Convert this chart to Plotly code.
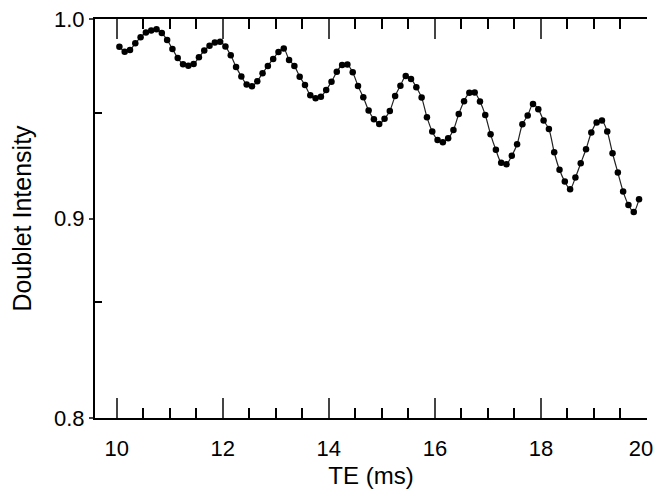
import plotly.graph_objects as go

# echo time (ms), one point every 0.1 ms
te = [round(10.05 + 0.1 * i, 2) for i in range(99)]

intensity = [
    0.9861, 0.9836, 0.9845, 0.9878, 0.9908, 0.9932, 0.9942, 0.9948, 0.9930, 0.9895,
    0.9850, 0.9805, 0.9773, 0.9766, 0.9775, 0.9808, 0.9842, 0.9866, 0.9882, 0.9886,
    0.9862, 0.9818, 0.9760, 0.9712, 0.9672, 0.9663, 0.9688, 0.9728, 0.9765, 0.9800,
    0.9835, 0.9852, 0.9795, 0.9765, 0.9711, 0.9669, 0.9618, 0.9603, 0.9610, 0.9644,
    0.9686, 0.9735, 0.9770, 0.9772, 0.9733, 0.9664, 0.9608, 0.9541, 0.9498, 0.9474,
    0.9500, 0.9539, 0.9614, 0.9666, 0.9714, 0.9699, 0.9658, 0.9606, 0.9508, 0.9436,
    0.9394, 0.9382, 0.9402, 0.9444, 0.9524, 0.9588, 0.9630, 0.9632, 0.9586, 0.9519,
    0.9422, 0.9344, 0.9280, 0.9272, 0.9314, 0.9372, 0.9473, 0.9516, 0.9574, 0.9548,
    0.9491, 0.9449, 0.9332, 0.9244, 0.9185, 0.9147, 0.9205, 0.9277, 0.9347, 0.9431,
    0.9481, 0.9491, 0.9436, 0.9327, 0.9230, 0.9135, 0.9068, 0.9032, 0.9097,
]

x_ticks = [10, 12, 14, 16, 18, 20]
# trailing spaces nudge the last label left so it is not clipped at the edge
x_tick_text = ["10", "12", "14", "16", "18", "20\u00a0\u00a0"]
y_ticks = [0.8, 0.9, 1.0]
y_tick_text = ["0.8", "0.9", "1.0"]
y_minor_left = [0.953, 0.858]
y_ticks_right = [0.952, 0.905]

font = "Liberation Sans, Arial, sans-serif"

fig = go.Figure()
fig.add_trace(go.Scatter(
    x=te, y=intensity, mode="lines+markers",
    line=dict(color="#222", width=1.2, shape="spline", smoothing=0.8),
    marker=dict(color="black", size=6.5),
    showlegend=False,
))

# the page body adds an 8px margin, so the figure is sized to fit the window
fig.update_layout(
    width=648, height=481,
    margin=dict(l=87, r=9, t=11, b=71),
    paper_bgcolor="white", plot_bgcolor="white",
    font=dict(family=font, color="black", size=22),
    xaxis=dict(
        range=[9.59, 20], tickvals=x_ticks, ticktext=x_tick_text, ticks="inside", ticklen=20,
        tickwidth=1.5, showline=True, linecolor="black", linewidth=2, mirror="ticks",
        showgrid=False, zeroline=False, ticklabelstandoff=10, ticklabeloverflow="allow",
        automargin=False,
        minor=dict(dtick=0.5, tick0=10, ticks="inside", ticklen=10, tickwidth=1.5, tickcolor="black"),
        title=dict(text="TE (ms)", font=dict(size=24), standoff=8),
    ),
    yaxis=dict(
        range=[0.8, 1.0], tickvals=y_ticks, ticktext=y_tick_text, ticks="outside", ticklen=4,
        tickwidth=1.5, showline=True, linecolor="black", linewidth=2, showgrid=False,
        zeroline=False, ticklabeloverflow="allow", automargin=False,
        minor=dict(tickmode="array", tickvals=y_minor_left, ticks="inside", ticklen=7,
                   tickwidth=1.5, tickcolor="black"),
        title=dict(text="Doublet Intensity", font=dict(size=25), standoff=20),
    ),
    yaxis2=dict(
        range=[0.8, 1.0], overlaying="y", side="right", tickvals=y_ticks_right,
        ticks="inside", ticklen=6, tickwidth=1.5, showticklabels=False, automargin=False,
        showline=True, linecolor="black", linewidth=2, showgrid=False, zeroline=False,
    ),
)

fig.write_html("out.html")
